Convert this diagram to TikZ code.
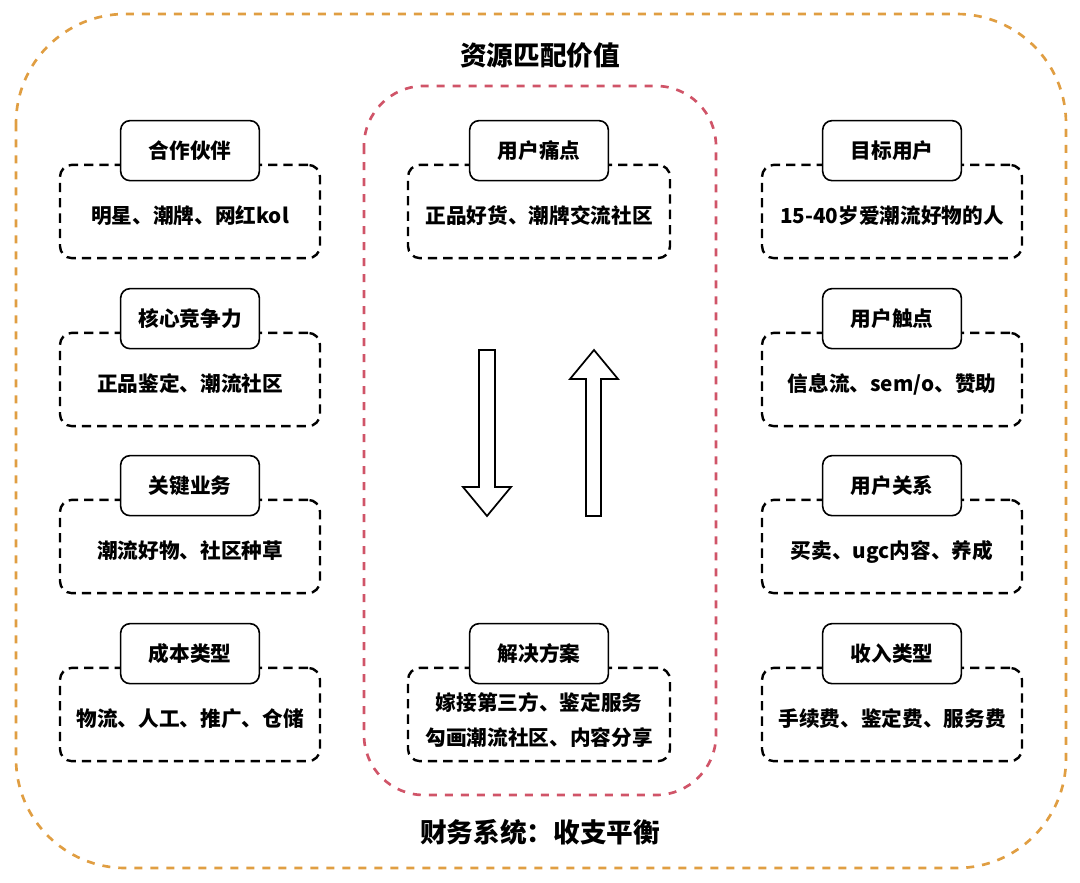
\documentclass[tikz,border=0pt]{standalone}
\usepackage{fontspec}
\setmainfont{Noto Sans CJK SC}
\usetikzlibrary{positioning}
\definecolor{outerorange}{RGB}{224,158,66}
\definecolor{innerred}{RGB}{208,84,104}

\begin{document}
\begin{tikzpicture}[x=0.75pt,y=-0.75pt,
        itembox/.style={draw=black, line width=1.8pt, dash pattern=on 7pt off 4.5pt, rounded corners=9pt, minimum width=195pt, minimum height=70pt, align=center, text height=20.5pt, text depth=1.9pt, font=\bfseries\fontsize{15.5}{26}\selectfont},
        headbox/.style={draw=black, line width=1.2pt, fill=white, rounded corners=7pt, minimum width=104pt, minimum height=45pt, font=\bfseries\fontsize{15.5}{18}\selectfont},
        bigarrow/.style={draw=black, line width=1.3pt, fill=white},
]
        \useasboundingbox (0,0) rectangle (1080,882);
        \draw[outerorange, line width=2pt, dash pattern=on 6pt off 6pt, rounded corners=82pt] (16,14) rectangle (1066,868);
        \draw[innerred, line width=2pt, dash pattern=on 6pt off 6pt, rounded corners=45pt] (364,86) rectangle (716,795);

        \node[font=\bfseries\fontsize{20}{24}\selectfont] (valuetitle) at (540,55) {资源匹配价值};
        \node[font=\bfseries\fontsize{20}{24}\selectfont] (financetitle) at (540,832) {财务系统：收支平衡};

        \node[itembox] (partner) at (190,211.5) {明星、潮牌、网红kol};
        \node[itembox] (core) at (190,379.5) {正品鉴定、潮流社区};
        \node[itembox] (business) at (190,546.5) {潮流好物、社区种草};
        \node[itembox] (cost) at (190,714.5) {物流、人工、推广、仓储};

        \node[itembox, minimum width=196.5pt] (painpoint) at (539,211.5) {正品好货、潮牌交流社区};
        \node[itembox, minimum width=196.5pt, text height=48.6pt, text depth=1.9pt] (solution) at (539,714.5) {嫁接第三方、鉴定服务\\勾画潮流社区、内容分享};

        \node[itembox] (target) at (892,211.5) {15-40岁爱潮流好物的人};
        \node[itembox] (touch) at (892,379.5) {信息流、sem/o、赞助};
        \node[itembox] (relation) at (892,546.5) {买卖、ugc内容、养成};
        \node[itembox] (income) at (892,714.5) {手续费、鉴定费、服务费};

        \node[headbox] (partnerhead) at ([yshift=9.75pt]partner.north) {合作伙伴};
        \node[headbox] (corehead) at ([yshift=9.75pt]core.north) {核心竞争力};
        \node[headbox] (businesshead) at ([yshift=9.75pt]business.north) {关键业务};
        \node[headbox] (costhead) at ([yshift=9.75pt]cost.north) {成本类型};
        \node[headbox] (painpointhead) at ([yshift=9.75pt]painpoint.north) {用户痛点};
        \node[headbox] (solutionhead) at ([yshift=9.75pt]solution.north) {解决方案};
        \node[headbox] (targethead) at ([yshift=9.75pt]target.north) {目标用户};
        \node[headbox] (touchhead) at ([yshift=9.75pt]touch.north) {用户触点};
        \node[headbox] (relationhead) at ([yshift=9.75pt]relation.north) {用户关系};
        \node[headbox] (incomehead) at ([yshift=9.75pt]income.north) {收入类型};

        \draw[bigarrow] (479,350) -- (495,350) -- (495,487) -- (511,487) -- (487,516) -- (463,487) -- (479,487) -- cycle;
        \draw[bigarrow] (586,516) -- (601,516) -- (601,379) -- (618,379) -- (594,350) -- (570,379) -- (586,379) -- cycle;
\end{tikzpicture}
\end{document}
